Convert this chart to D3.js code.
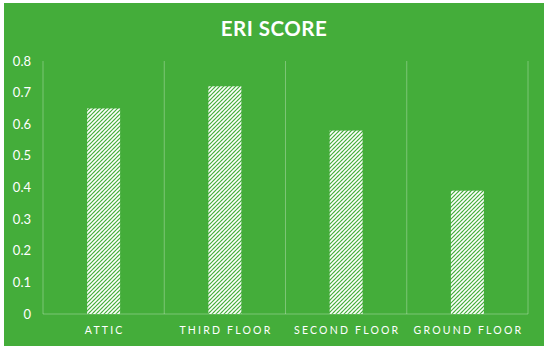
<!DOCTYPE html>
<head>
  <meta charset="utf-8">
  <script src="https://cdn.jsdelivr.net/npm/d3@7/dist/d3.min.js"></script>
  <style>
    body { margin:0; background:#fff; }
    text { font-family: Lato, "Open Sans", sans-serif; fill:#fff; }
  </style>
</head>
<body>
  <script>
    var categories = ["ATTIC", "THIRD FLOOR", "SECOND FLOOR", "GROUND FLOOR"];
    var scores = [0.65, 0.72, 0.58, 0.39];
    var yTicks = [0, 0.1, 0.2, 0.3, 0.4, 0.5, 0.6, 0.7, 0.8];

    var width = 550, height = 351;
    var margin = {top: 61, right: 22, bottom: 37, left: 43};

    var svg = d3.select("body").append("svg")
      .attr("width", width)
      .attr("height", height);

    // hatch pattern for the bars
    var pat = svg.append("defs").append("pattern")
      .attr("id", "hatch")
      .attr("patternUnits", "userSpaceOnUse")
      .attr("width", 4)
      .attr("height", 4);
    pat.append("path")
      .attr("d", "M-1,1 l2,-2 M0,4 l4,-4 M3,5 l2,-2")
      .attr("stroke", "#fff")
      .attr("stroke-width", 1.6);

    svg.append("rect")
      .attr("x", 4).attr("y", 3)
      .attr("width", 540).attr("height", 343)
      .attr("fill", "#44ad3a");

    var x = d3.scaleBand()
      .domain(categories)
      .range([margin.left, width - margin.right]);

    var y = d3.scaleLinear()
      .domain([0, 0.8])
      .range([height - margin.bottom, margin.top]);

    // vertical gridlines at category edges
    var edges = categories.map(function(c) { return x(c); }).concat([x.range()[1]]);
    svg.selectAll(".grid")
      .data(edges)
      .enter().append("line")
      .attr("x1", function(d) { return d; })
      .attr("x2", function(d) { return d; })
      .attr("y1", y(0.8))
      .attr("y2", y(0))
      .attr("stroke", "rgba(255,255,255,0.3)")
      .attr("stroke-width", 1);

    svg.append("line")
      .attr("x1", x.range()[0]).attr("x2", x.range()[1])
      .attr("y1", y(0)).attr("y2", y(0))
      .attr("stroke", "rgba(255,255,255,0.3)");

    var barW = x.bandwidth() * 0.272;
    svg.selectAll(".bar")
      .data(scores)
      .enter().append("rect")
      .attr("x", function(d, i) { return x(categories[i]) + x.bandwidth() / 2 - barW / 2; })
      .attr("y", function(d) { return y(d); })
      .attr("width", barW)
      .attr("height", function(d) { return y(0) - y(d); })
      .attr("fill", "url(#hatch)");

    svg.selectAll(".ytick")
      .data(yTicks)
      .enter().append("text")
      .attr("x", 31)
      .attr("y", function(d) { return y(d) + 4.5; })
      .attr("text-anchor", "end")
      .style("font-size", "13px")
      .text(function(d) { return d === 0 ? "0" : d3.format(".1f")(d); });

    svg.selectAll(".xlab")
      .data(categories)
      .enter().append("text")
      .attr("x", function(d) { return x(d) + x.bandwidth() / 2 + 1.1; })
      .attr("y", 334)
      .attr("text-anchor", "middle")
      .style("font-size", "10.5px")
      .style("letter-spacing", "2.2px")
      .text(function(d) { return d; });

    svg.append("text")
      .attr("x", 274)
      .attr("y", 36)
      .attr("text-anchor", "middle")
      .style("font-size", "20.5px")
      .style("font-weight", "bold")
      .style("letter-spacing", "0.5px")
      .text("ERI SCORE");
  </script>
</body>
